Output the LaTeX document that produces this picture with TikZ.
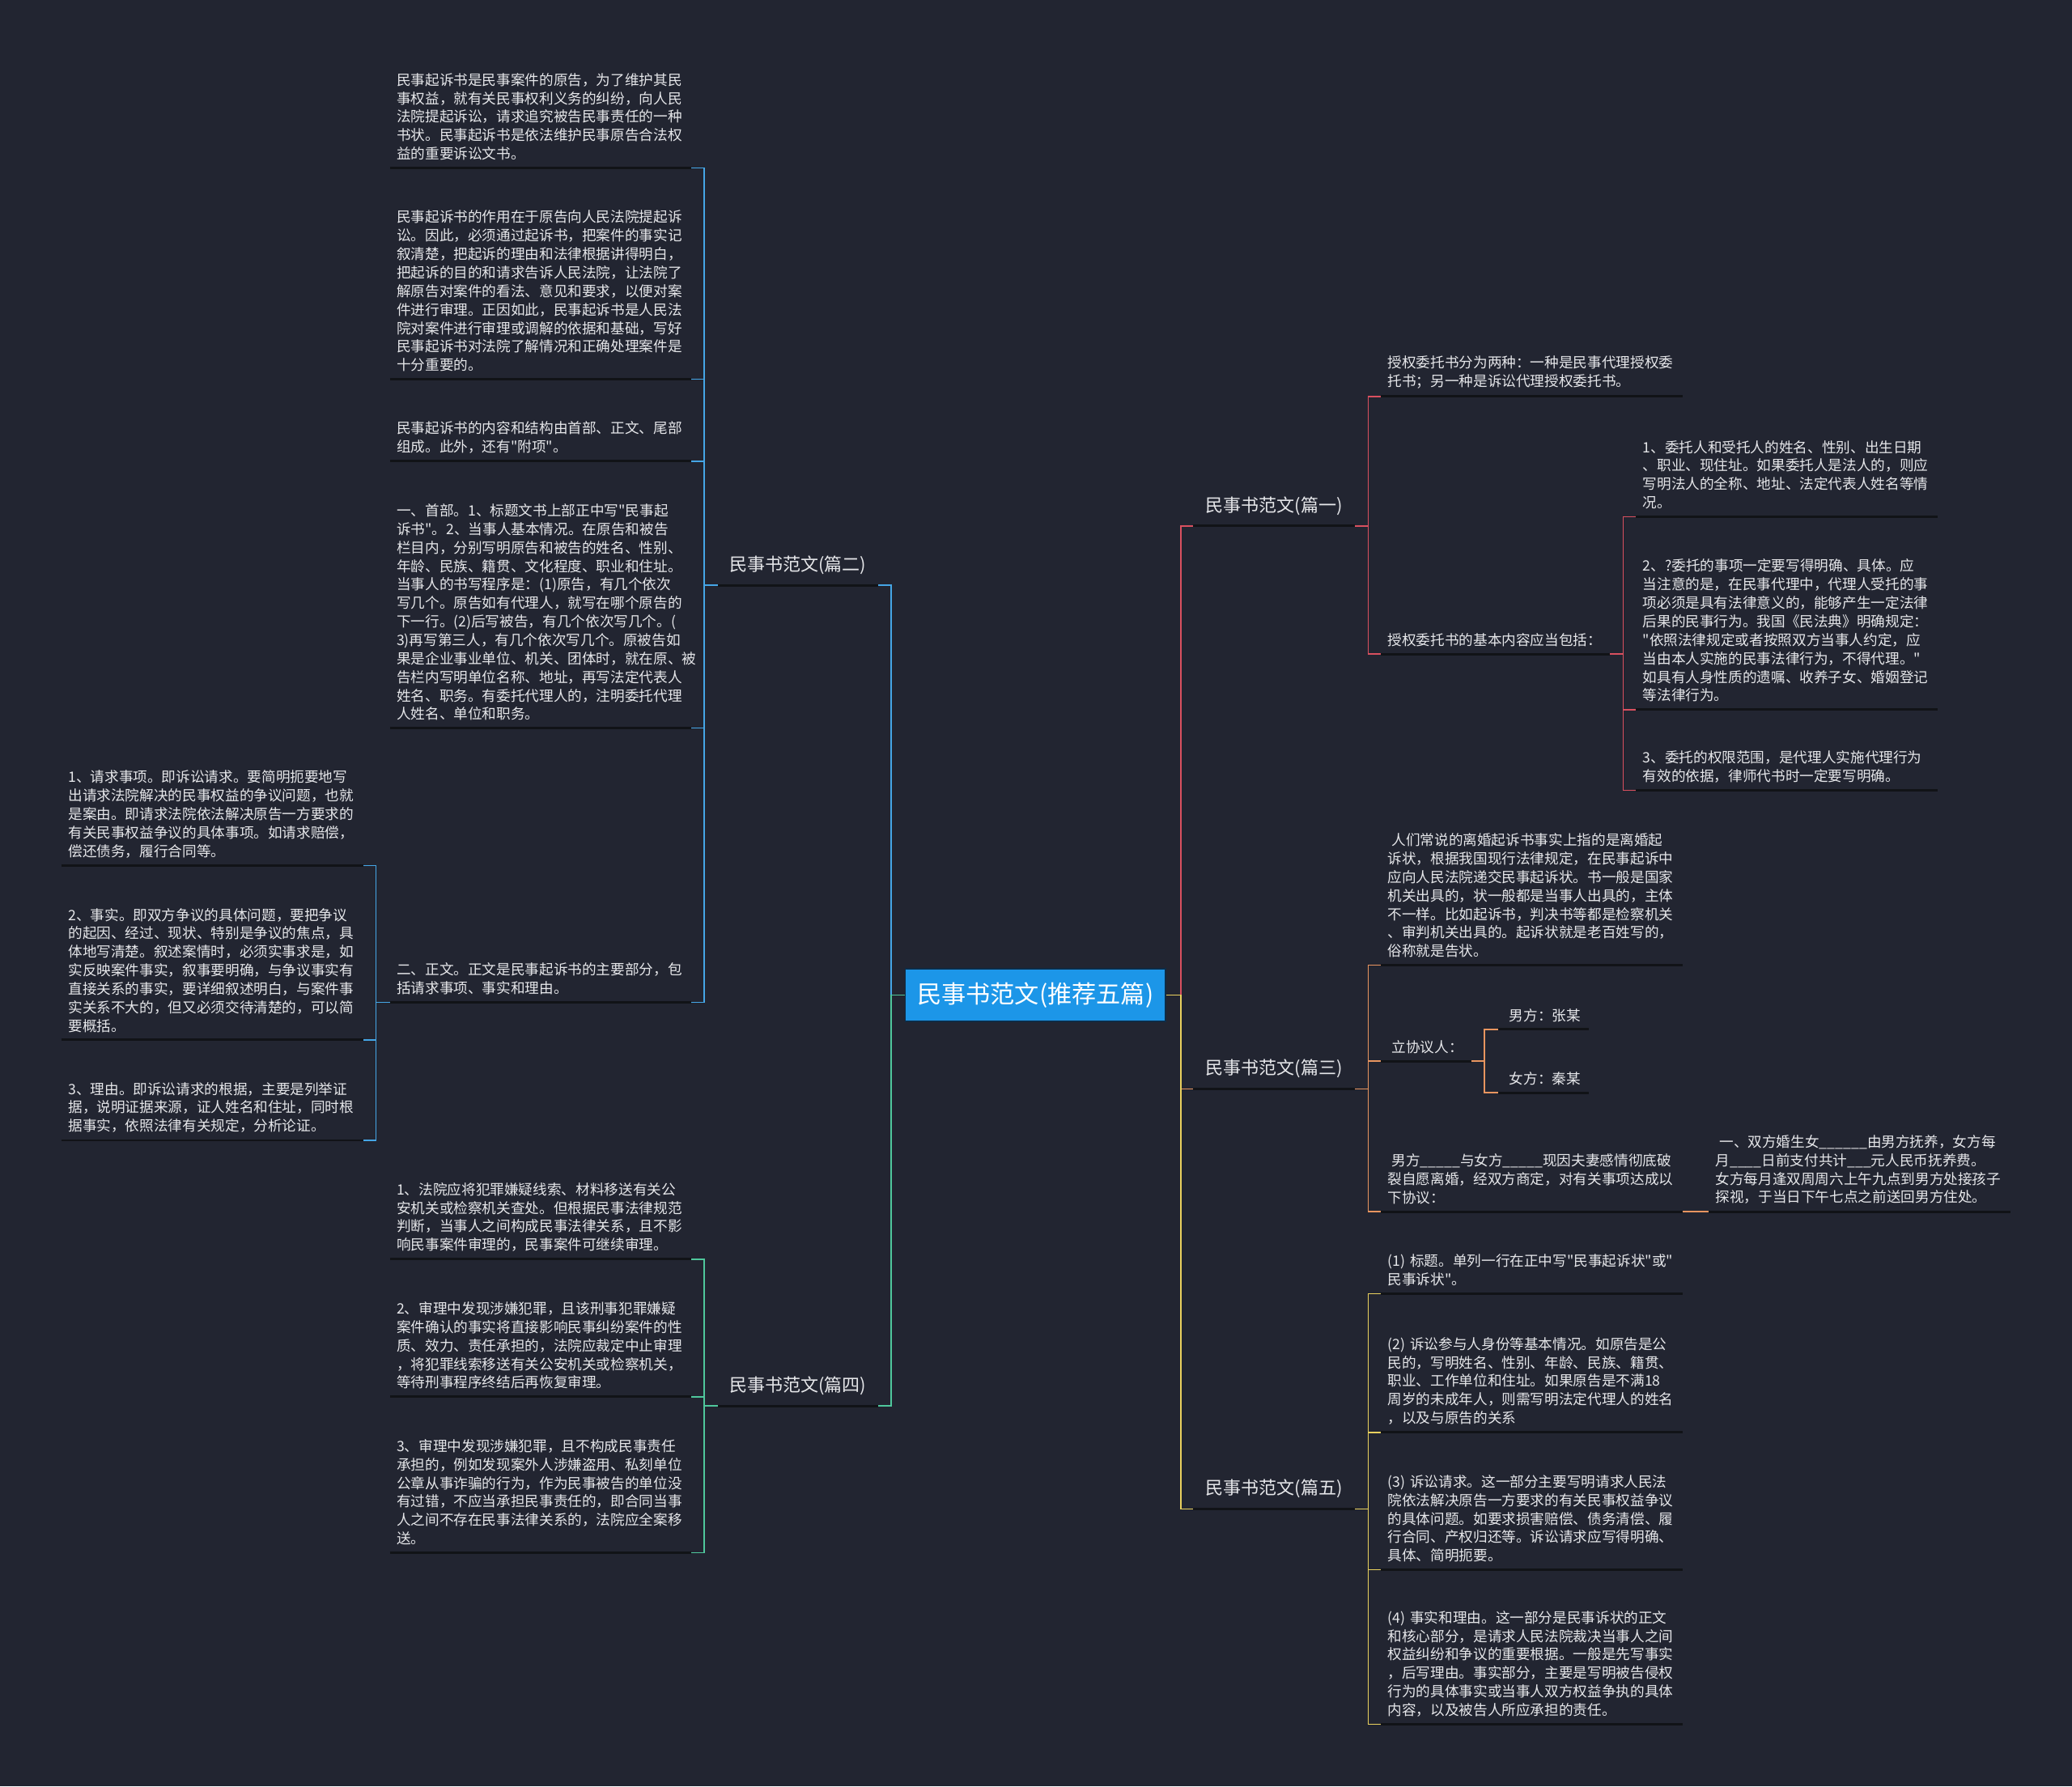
\documentclass[tikz,border=0pt]{standalone}
\usepackage{fontspec}
\setmainfont{Noto Sans CJK SC}[Ligatures=TeXOff]
\definecolor{bg}{HTML}{222531}
\definecolor{txt}{HTML}{E6E7EA}
\definecolor{uline}{HTML}{111317}
\definecolor{rootblue}{HTML}{1C96E8}
\definecolor{rootedge}{HTML}{0E2C46}
\definecolor{cblue}{HTML}{45A6E6}
\definecolor{cgreen}{HTML}{4FC79C}
\definecolor{cred}{HTML}{D9505F}
\definecolor{corange}{HTML}{E8955F}
\definecolor{cyellow}{HTML}{E9D15E}

\begin{document}
\begin{tikzpicture}[x=1pt, y=-1pt,
	ul/.style={append after command={(\tikzlastnode.south west) edge[draw=uline, line width=1.8pt] (\tikzlastnode.south east)}},
	leaf/.style={anchor=south west, text width=218pt, align=left, inner xsep=5pt, inner ysep=5.5pt, text=txt, font=\fontsize{10.8}{14}\selectfont, ul},
	topic/.style={anchor=south west, minimum width=122pt, inner xsep=0pt, inner ysep=8pt, text=txt, font=\fontsize{13.5}{16}\selectfont, ul},
	root/.style={fill=rootblue, draw=rootedge, line width=1pt, minimum width=197pt, minimum height=40pt, inner sep=0pt, text=white, font=\fontsize{18.5}{22}\selectfont},
	link/.style={line width=1pt}]
	\fill[bg] (0,0) rectangle (1568,1352);

	\node[root] (root) at (783.5,753) {民事书范文(推荐五篇)};

	\node[topic] (p1) at (903,398) {民事书范文(篇一)};
	\node[topic] (p3) at (903,824) {民事书范文(篇三)};
	\node[topic] (p5) at (903,1142) {民事书范文(篇五)};
	\node[topic, minimum width=121pt] (p2) at (543,443) {民事书范文(篇二)};
	\node[topic, minimum width=121pt] (p4) at (543,1064) {民事书范文(篇四)};

	\node[leaf] (a1) at (1045,300) {授权委托书分为两种：一种是民事代理授权委\\托书；另一种是诉讼代理授权委托书。};
	\node[leaf, text width=163pt] (a2) at (1045,495) {授权委托书的基本内容应当包括：};
	\node[leaf] (g1) at (1238,391) {1、委托人和受托人的姓名、性别、出生日期\\、职业、现住址。如果委托人是法人的，则应\\写明法人的全称、地址、法定代表人姓名等情\\况。};
	\node[leaf] (g2) at (1238,537) {2、?委托的事项一定要写得明确、具体。应\\当注意的是，在民事代理中，代理人受托的事\\项必须是具有法律意义的，能够产生一定法律\\后果的民事行为。我国《民法典》明确规定：\\"依照法律规定或者按照双方当事人约定，应\\当由本人实施的民事法律行为，不得代理。"\\如具有人身性质的遗嘱、收养子女、婚姻登记\\等法律行为。};
	\node[leaf] (g3) at (1238,598) {3、委托的权限范围，是代理人实施代理行为\\有效的依据，律师代书时一定要写明确。};

	\node[leaf] (b1) at (1045,730.5) {\hspace*{3pt}人们常说的离婚起诉书事实上指的是离婚起\\诉状，根据我国现行法律规定，在民事起诉中\\应向人民法院递交民事起诉状。书一般是国家\\机关出具的，状一般都是当事人出具的，主体\\不一样。比如起诉书，判决书等都是检察机关\\、审判机关出具的。起诉状就是老百姓写的，\\俗称就是告状。};
	\node[leaf, text width=58pt] (b2) at (1045,803) {\hspace*{3pt}立协议人：};
	\node[leaf, text width=58pt] (b2a) at (1134,779) {\hspace*{3pt}男方：张某};
	\node[leaf, text width=58pt] (b2b) at (1134,827) {\hspace*{3pt}女方：秦某};
	\node[leaf] (b3) at (1045,917) {\hspace*{3pt}男方\_\_\_\_\_与女方\_\_\_\_\_现因夫妻感情彻底破\\裂自愿离婚，经双方商定，对有关事项达成以\\下协议：};
	\node[leaf] (b3a) at (1293,917) {\hspace*{3pt}一、双方婚生女\_\_\_\_\_\_由男方抚养，女方每\\月\_\_\_\_日前支付共计\_\_\_元人民币抚养费。\\女方每月逢双周周六上午九点到男方处接孩子\\探视，于当日下午七点之前送回男方住处。};

	\node[leaf] (c1) at (1045,979) {(1)~标题。单列一行在正中写"民事起诉状"或"\\民事诉状"。};
	\node[leaf] (c2) at (1045,1084) {(2)~诉讼参与人身份等基本情况。如原告是公\\民的，写明姓名、性别、年龄、民族、籍贯、\\职业、工作单位和住址。如果原告是不满18\\周岁的未成年人，则需写明法定代理人的姓名\\，以及与原告的关系};
	\node[leaf] (c3) at (1045,1188) {(3)~诉讼请求。这一部分主要写明请求人民法\\院依法解决原告一方要求的有关民事权益争议\\的具体问题。如要求损害赔偿、债务清偿、履\\行合同、产权归还等。诉讼请求应写得明确、\\具体、简明扼要。};
	\node[leaf] (c4) at (1045,1305) {(4)~事实和理由。这一部分是民事诉状的正文\\和核心部分，是请求人民法院裁决当事人之间\\权益纠纷和争议的重要根据。一般是先写事实\\，后写理由。事实部分，主要是写明被告侵权\\行为的具体事实或当事人双方权益争执的具体\\内容，以及被告人所应承担的责任。};

	\node[leaf, text width=217.5pt] (d1) at (295,127) {民事起诉书是民事案件的原告，为了维护其民\\事权益，就有关民事权利义务的纠纷，向人民\\法院提起诉讼，请求追究被告民事责任的一种\\书状。民事起诉书是依法维护民事原告合法权\\益的重要诉讼文书。};
	\node[leaf, text width=217.5pt] (d2) at (295,287) {民事起诉书的作用在于原告向人民法院提起诉\\讼。因此，必须通过起诉书，把案件的事实记\\叙清楚，把起诉的理由和法律根据讲得明白，\\把起诉的目的和请求告诉人民法院，让法院了\\解原告对案件的看法、意见和要求，以便对案\\件进行审理。正因如此，民事起诉书是人民法\\院对案件进行审理或调解的依据和基础，写好\\民事起诉书对法院了解情况和正确处理案件是\\十分重要的。};
	\node[leaf, text width=217.5pt] (d3) at (295,349) {民事起诉书的内容和结构由首部、正文、尾部\\组成。此外，还有"附项"。};
	\node[leaf, text width=217.5pt] (d4) at (295,551) {一、首部。1、标题文书上部正中写"民事起\\诉书"。2、当事人基本情况。在原告和被告\\栏目内，分别写明原告和被告的姓名、性别、\\年龄、民族、籍贯、文化程度、职业和住址。\\当事人的书写程序是：(1)原告，有几个依次\\写几个。原告如有代理人，就写在哪个原告的\\下一行。(2)后写被告，有几个依次写几个。(\\3)再写第三人，有几个依次写几个。原被告如\\果是企业事业单位、机关、团体时，就在原、被\\告栏内写明单位名称、地址，再写法定代表人\\姓名、职务。有委托代理人的，注明委托代理\\人姓名、单位和职务。};
	\node[leaf, text width=217.5pt] (d5) at (295,758.5) {二、正文。正文是民事起诉书的主要部分，包\\括请求事项、事实和理由。};
	\node[leaf] (e1) at (46.5,655) {1、请求事项。即诉讼请求。要简明扼要地写\\出请求法院解决的民事权益的争议问题，也就\\是案由。即请求法院依法解决原告一方要求的\\有关民事权益争议的具体事项。如请求赔偿，\\偿还债务，履行合同等。};
	\node[leaf] (e2) at (46.5,787) {2、事实。即双方争议的具体问题，要把争议\\的起因、经过、现状、特别是争议的焦点，具\\体地写清楚。叙述案情时，必须实事求是，如\\实反映案件事实，叙事要明确，与争议事实有\\直接关系的事实，要详细叙述明白，与案件事\\实关系不大的，但又必须交待清楚的，可以简\\要概括。};
	\node[leaf] (e3) at (46.5,863) {3、理由。即诉讼请求的根据，主要是列举证\\据，说明证据来源，证人姓名和住址，同时根\\据事实，依照法律有关规定，分析论证。};

	\node[leaf, text width=217.5pt] (f1) at (295,953) {1、法院应将犯罪嫌疑线索、材料移送有关公\\安机关或检察机关查处。但根据民事法律规范\\判断，当事人之间构成民事法律关系，且不影\\响民事案件审理的，民事案件可继续审理。};
	\node[leaf, text width=217.5pt] (f2) at (295,1057) {2、审理中发现涉嫌犯罪，且该刑事犯罪嫌疑\\案件确认的事实将直接影响民事纠纷案件的性\\质、效力、责任承担的，法院应裁定中止审理\\，将犯罪线索移送有关公安机关或检察机关，\\等待刑事程序终结后再恢复审理。};
	\node[leaf, text width=217.5pt] (f3) at (295,1175) {3、审理中发现涉嫌犯罪，且不构成民事责任\\承担的，例如发现案外人涉嫌盗用、私刻单位\\公章从事诈骗的行为，作为民事被告的单位没\\有过错，不应当承担民事责任的，即合同当事\\人之间不存在民事法律关系的，法院应全案移\\送。};

	\draw[link, cblue] (root.west) -- ++(-10,0) |- (p2.south east);
	\draw[link, cgreen] (root.west) -- ++(-10,0) |- (p4.south east);
	\draw[link, cred] (root.east) -- ++(11,0) |- (p1.south west);
	\draw[link, corange] (root.east) -- ++(11,0) |- (p3.south west);
	\draw[link, cyellow] (root.east) -- ++(11,0) |- (p5.south west);

	\foreach \n in {d1,d2,d3,d4,d5}
		\draw[link, cblue] (p2.south west) -- ++(-10,0) |- (\n.south east);
	\foreach \n in {e1,e2,e3}
		\draw[link, cblue] (d5.south west) -- ++(-10.5,0) |- (\n.south east);
	\foreach \n in {f1,f2,f3}
		\draw[link, cgreen] (p4.south west) -- ++(-10,0) |- (\n.south east);
	\foreach \n in {a1,a2}
		\draw[link, cred] (p1.south east) -- ++(10,0) |- (\n.south west);
	\foreach \n in {g1,g2,g3}
		\draw[link, cred] (a2.south east) -- ++(10,0) |- (\n.south west);
	\foreach \n in {b1,b2,b3}
		\draw[link, corange] (p3.south east) -- ++(10,0) |- (\n.south west);
	\foreach \n in {b2a,b2b}
		\draw[link, corange] (b2.south east) -- ++(10,0) |- (\n.south west);
	\draw[link, corange] (b3.south east) -- (b3a.south west);
	\foreach \n in {c1,c2,c3,c4}
		\draw[link, cyellow] (p5.south east) -- ++(10,0) |- (\n.south west);
\end{tikzpicture}
\end{document}
